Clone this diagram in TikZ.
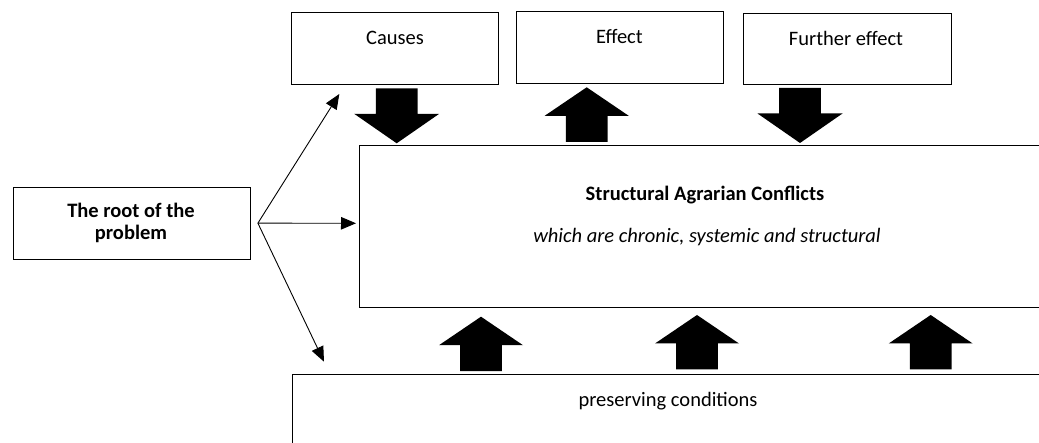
\documentclass[tikz,border=0pt]{standalone}
\usepackage{fontspec}
\setmainfont{Carlito}
\usetikzlibrary{arrows.meta}
\begin{document}
\begin{tikzpicture}[x=1pt,y=-1pt,
  box/.style={draw, line width=0.9pt, inner sep=0pt, anchor=north west},
  lbl/.style={font=\fontsize{20.5}{25}\selectfont, inner sep=0pt, anchor=base},
  thinarrow/.style={line width=0.9pt, -{Triangle[length=15pt,width=12.5pt]}},
  dnarrow/.pic={\fill[black] (-20.8,-55) -- (20.8,-55) -- (20.8,-29.5) -- (42.5,-29.5) -- (0,0) -- (-42.5,-29.5) -- (-20.8,-29.5) -- cycle;},
  uparrow/.pic={\fill[black] (-20.8,54.5) -- (20.8,54.5) -- (20.8,28.5) -- (42,28.5) -- (0,0) -- (-42,28.5) -- (-20.8,28.5) -- cycle;},
]
\useasboundingbox (0,0) rectangle (1039,443);
\fill[white] (0,0) rectangle (1039,443);
\clip (0,0) rectangle (1039,443);

% boxes
\node[box, minimum width=207pt, minimum height=72pt] (causes) at (291,12) {};
\node[box, minimum width=207pt, minimum height=72pt] (effect) at (516,11) {};
\node[box, minimum width=208pt, minimum height=71.5pt] (further) at (743,13) {};
\node[box, minimum width=237.3pt, minimum height=72pt] (root) at (12.7,186.7) {};
\node[box, minimum width=692pt, minimum height=162.5pt] (main) at (359,145) {};
\node[box, minimum width=752pt, minimum height=110pt] (pres) at (292,374) {};

% texts
\node[lbl] (tcauses) at (395,45) {Causes};
\node[lbl] (teffect) at (619.5,44) {Effect};
\node[lbl] (tfurther) at (846,46) {Further effect};
\node[lbl, font=\fontsize{20.5}{25}\selectfont\bfseries] (troot1) at (131,217.3) {The root of the};
\node[lbl, font=\fontsize{20.5}{25}\selectfont\bfseries] (troot2) at (131,240) {problem};
\node[lbl, font=\fontsize{20.5}{25}\selectfont\bfseries] (tmain1) at (705,201) {Structural Agrarian Conflicts};
\node[lbl, font=\fontsize{20.5}{25}\selectfont\itshape] (tmain2) at (707,243) {which are chronic, systemic and structural};
\node[lbl] (tpres) at (668,406.7) {preserving conditions};

% thin arrows from the root
\coordinate (o) at ([xshift=7pt]root.east);
\coordinate (tipc) at (339.3,94);
\coordinate (tipm) at (356,223.3);
\coordinate (tipp) at (324,361.7);
\draw[thinarrow] (o) -- (tipc);
\draw[thinarrow] (o) -- (tipm);
\draw[thinarrow] (o) -- (tipp);

% block arrows
\pic at (396.7,143.3) {dnarrow};
\pic at (586.7,87.3) {uparrow};
\pic at (800,143) {dnarrow};
\pic at (481,316.7) {uparrow};
\pic at (697,315) {uparrow};
\pic at (930.7,315) {uparrow};
\end{tikzpicture}
\end{document}
